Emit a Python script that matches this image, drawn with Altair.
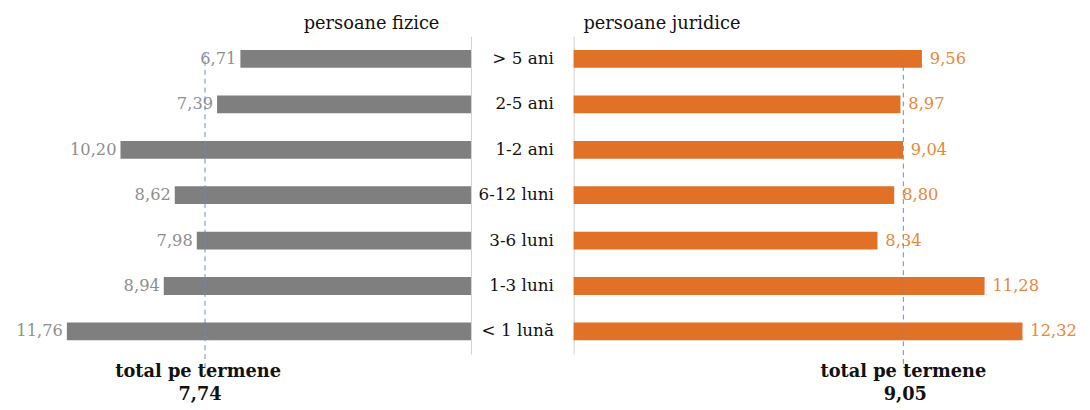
import altair as alt
import pandas as pd

categories = ["> 5 ani", "2-5 ani", "1-2 ani", "6-12 luni", "3-6 luni", "1-3 luni", "< 1 lună"]
fizice = [6.71, 7.39, 10.20, 8.62, 7.98, 8.94, 11.76]
juridice = [9.56, 8.97, 9.04, 8.80, 8.34, 11.28, 12.32]
total_fizice = 7.74
total_juridice = 9.05
title_left = "persoane fizice"
title_right = "persoane juridice"
total_label = "total pe termene"

FONT = "DejaVu Serif"

def fmt(v):
    return f"{v:.2f}".replace(".", ",")

df = pd.DataFrame({
    "cat": categories,
    "fiz": fizice,
    "jur": juridice,
    "fiz_lbl": [fmt(v) for v in fizice],
    "jur_lbl": [fmt(v) for v in juridice],
})
tot = pd.DataFrame({
    "tf": [total_fizice], "tj": [total_juridice],
    "tf_lbl": [fmt(total_fizice)], "tj_lbl": [fmt(total_juridice)],
    "name": [total_label],
})

H = 322
yscale = alt.Scale(domain=categories, paddingInner=0, paddingOuter=0)

# ---------- left panel ----------
xl = alt.Scale(domain=[0, 13.33], reverse=True)
base_l = alt.Chart(df).encode(
    y=alt.Y("cat:N", scale=yscale, sort=categories,
            axis=alt.Axis(orient="right", labels=False, ticks=False, title=None,
                          domainColor="#d0d0d0", grid=False)),
)
bars_l = base_l.mark_bar(color="#7f7f7f", size=18).encode(
    x=alt.X("fiz:Q", scale=xl, axis=None))
lbl_l = base_l.mark_text(align="right", dx=-4, font=FONT, fontSize=16.5, color="#8f8f8f").encode(
    x=alt.X("fiz:Q", scale=xl, axis=None), text="fiz_lbl:N")
rule_l = alt.Chart(tot).mark_rule(color="#5b8fd0", strokeDash=[5, 4], strokeWidth=1).encode(
    x=alt.X("tf:Q", scale=xl, axis=None), y=alt.value(16), y2=alt.value(338))
t1_l = alt.Chart(tot).mark_text(font=FONT, fontSize=18, fontWeight="bold", color="#111", dx=-7).encode(
    x=alt.X("tf:Q", scale=xl, axis=None), y=alt.value(340), text="name:N")
t2_l = alt.Chart(tot).mark_text(font=FONT, fontSize=18, fontWeight="bold", color="#111", dx=-5).encode(
    x=alt.X("tf:Q", scale=xl, axis=None), y=alt.value(363), text="tf_lbl:N")
left = alt.layer(bars_l, lbl_l, rule_l, t1_l, t2_l).properties(
    width=464, height=H,
    title=alt.TitleParams(title_left, anchor="end", dx=-32, font=FONT, fontSize=18,
                          fontWeight="normal", color="#111", offset=3))

# ---------- middle panel ----------
mid = alt.Chart(df).mark_text(align="right", font=FONT, fontSize=17, color="#111").encode(
    y=alt.Y("cat:N", scale=yscale, sort=categories, axis=None),
    x=alt.value(84),
    text="cat:N",
).properties(width=104, height=H)

# ---------- right panel ----------
xr = alt.Scale(domain=[0, 13.71])
base_r = alt.Chart(df).encode(
    y=alt.Y("cat:N", scale=yscale, sort=categories,
            axis=alt.Axis(orient="left", labels=False, ticks=False, title=None,
                          domainColor="#d0d0d0", grid=False)),
)
bars_r = base_r.mark_bar(color="#e07127", size=18).encode(
    x=alt.X("jur:Q", scale=xr, axis=None))
lbl_r = base_r.mark_text(align="left", dx=8, font=FONT, fontSize=16.5, color="#e8893a").encode(
    x=alt.X("jur:Q", scale=xr, axis=None), text="jur_lbl:N")
rule_r = alt.Chart(tot).mark_rule(color="#5b8fd0", strokeDash=[5, 4], strokeWidth=1).encode(
    x=alt.X("tj:Q", scale=xr, axis=None), y=alt.value(21), y2=alt.value(336))
t1_r = alt.Chart(tot).mark_text(font=FONT, fontSize=18, fontWeight="bold", color="#111").encode(
    x=alt.X("tj:Q", scale=xr, axis=None), y=alt.value(340), text="name:N")
t2_r = alt.Chart(tot).mark_text(font=FONT, fontSize=18, fontWeight="bold", color="#111", dx=2).encode(
    x=alt.X("tj:Q", scale=xr, axis=None), y=alt.value(363), text="tj_lbl:N")
right = alt.layer(bars_r, lbl_r, rule_r, t1_r, t2_r).properties(
    width=506, height=H,
    title=alt.TitleParams(title_right, anchor="start", dx=10, font=FONT, fontSize=18,
                          fontWeight="normal", color="#111", offset=3))

chart = alt.hconcat(left, mid, right, spacing=0, bounds="flush").configure_view(
    stroke=None).configure_concat(spacing=0)

chart.save("out.html", embed_options={"renderer": "svg", "actions": False})
